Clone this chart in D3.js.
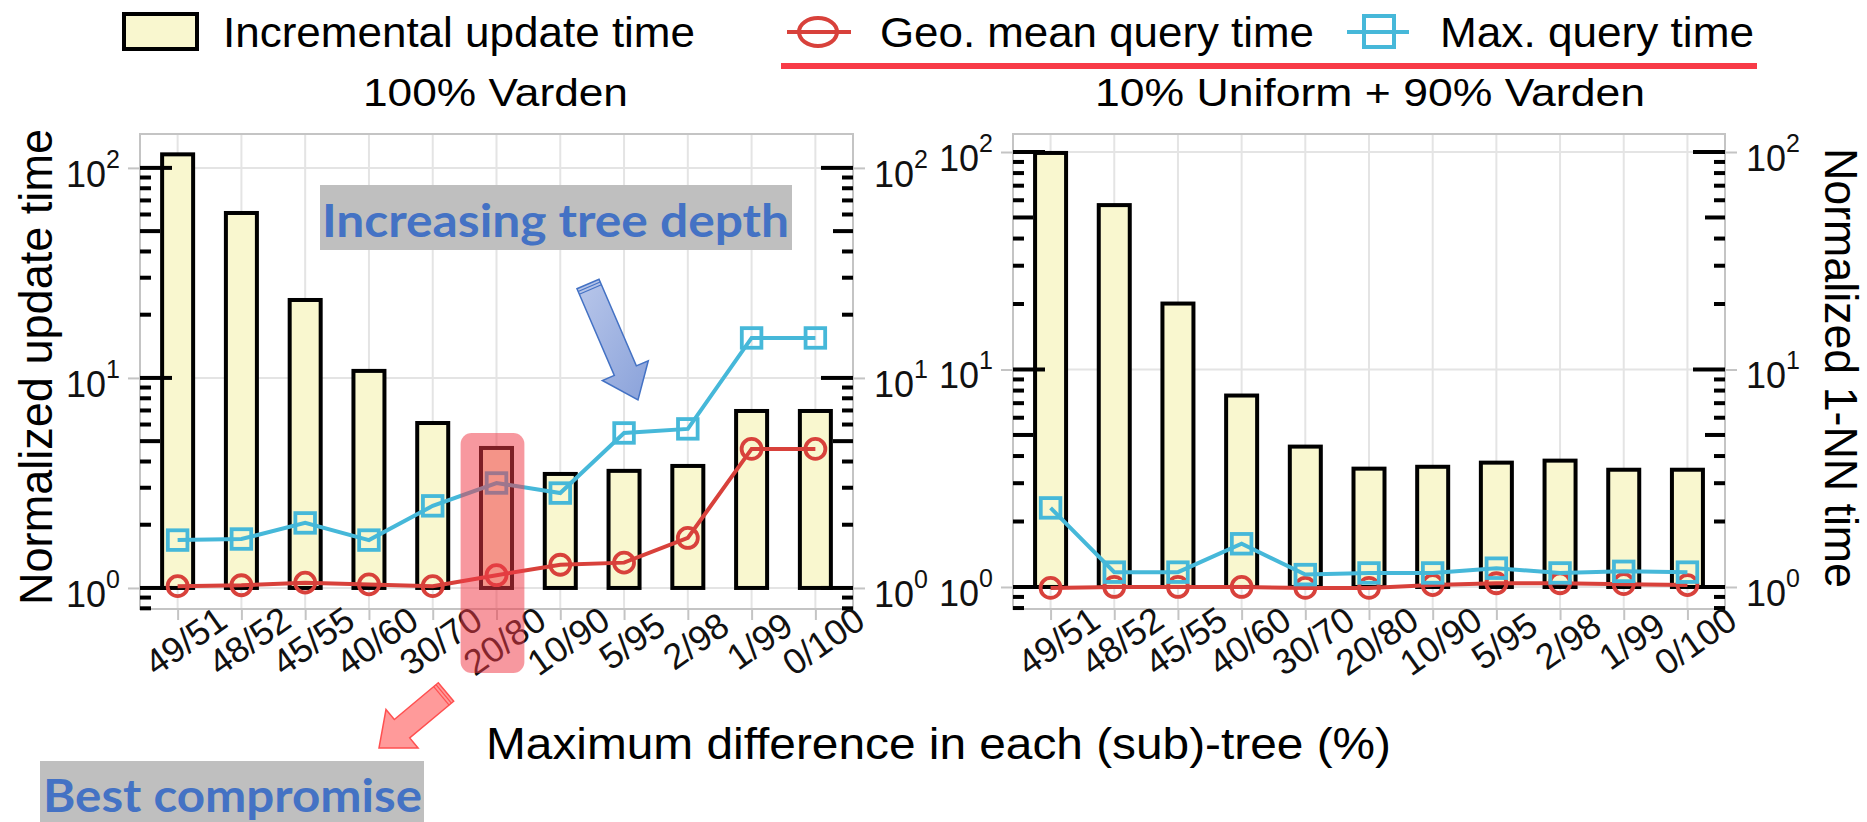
<!DOCTYPE html>
<html>
<head>
<meta charset="utf-8">
<script src="https://cdn.jsdelivr.net/npm/d3@7"></script>
<style>
  html, body { margin: 0; padding: 0; background: #fff; }
  svg { display: block; }
</style>
</head>
<body>
<svg id="chart" width="1867" height="822"></svg>
<script>
// Split ratios (max. difference in each sub-tree, %)
const categories = ["49/51", "48/52", "45/55", "40/60", "30/70", "20/80", "10/90", "5/95", "2/98", "1/99", "0/100"];

// 100% Varden
const varUpdate   = [116, 61, 23.5, 10.8, 6.1, 4.64, 3.49, 3.61, 3.81, 6.96, 6.96];
const varGeoMean  = [1.02, 1.03, 1.06, 1.04, 1.02, 1.15, 1.29, 1.32, 1.73, 4.59, 4.59];
const varMaxQuery = [1.69, 1.71, 2.04, 1.69, 2.46, 3.16, 2.83, 5.47, 5.72, 15.5, 15.5];

// 10% Uniform + 90% Varden
const mixUpdate   = [99, 57, 20.1, 7.59, 4.42, 3.50, 3.57, 3.73, 3.81, 3.46, 3.46];
const mixGeoMean  = [0.99, 1.0, 1.0, 1.0, 0.99, 0.99, 1.02, 1.04, 1.04, 1.03, 1.02];
const mixMaxQuery = [2.31, 1.17, 1.17, 1.58, 1.14, 1.16, 1.16, 1.22, 1.16, 1.18, 1.17];

const panelTitles = ["100% Varden", "10% Uniform + 90% Varden"];
const legendLabels = ["Incremental update time", "Geo. mean query time", "Max. query time"];
const majorTicks = [1, 10, 100];
const tickExponents = [0, 1, 2];

const FONT = "'Liberation Sans', Arial, Helvetica, sans-serif";
const NOTE_FONT = "Lato, 'Open Sans', sans-serif";
const BAR_FILL = "#f9f7cf";
const RED = "#d8413b";
const BLUE = "#46b8d9";
const GRID = "#e4e4e4";
const FRAME = "#c4c4c4";

const svg = d3.select("#chart");
const plotTop = 134, plotBottom = 609;

const panels = [
  { title: panelTitles[0], update: varUpdate, geo: varGeoMean, max: varMaxQuery,
    x0: 140, x1: 853, yDomain: [0.794, 145] },
  { title: panelTitles[1], update: mixUpdate, geo: mixGeoMean, max: mixMaxQuery,
    x0: 1013, x1: 1725, yDomain: [0.792, 121] }
];

// minor tick values (2..9 of every decade inside the domain)
function minorValues(domain) {
  const out = [];
  for (let k = -1; k <= 2; k++) {
    for (let m = 2; m <= 9; m++) {
      const v = m * Math.pow(10, k);
      if (v >= domain[0] && v <= domain[1]) out.push({ v, m });
    }
  }
  return out;
}

function powLabel(g, xPos, yPos, exp, anchor) {
  const t = g.append("text")
    .attr("x", xPos).attr("y", yPos + 19)
    .attr("text-anchor", anchor)
    .attr("font-family", FONT).attr("font-size", 36).attr("fill", "#111");
  t.append("tspan").text("10");
  t.append("tspan").attr("dy", -19).attr("font-size", 25).text(exp);
}

panels.forEach((p) => {
  const x = d3.scalePoint().domain(categories).range([p.x0, p.x1]).padding(0.59);
  const y = d3.scaleLog().domain(p.yDomain).range([plotBottom, plotTop]);
  const g = svg.append("g");

  // grid
  g.append("g").selectAll("line.v").data(categories).join("line")
    .attr("x1", d => x(d)).attr("x2", d => x(d))
    .attr("y1", plotTop).attr("y2", plotBottom)
    .attr("stroke", GRID).attr("stroke-width", 2);
  g.append("g").selectAll("line.h").data(majorTicks).join("line")
    .attr("x1", p.x0).attr("x2", p.x1)
    .attr("y1", d => y(d)).attr("y2", d => y(d))
    .attr("stroke", GRID).attr("stroke-width", 2);

  // outer gray axis ticks
  const axL = g.append("g").attr("transform", `translate(${p.x0},0)`)
    .call(d3.axisLeft(y).tickValues(majorTicks).tickSize(12).tickFormat(""));
  const axR = g.append("g").attr("transform", `translate(${p.x1},0)`)
    .call(d3.axisRight(y).tickValues(majorTicks).tickSize(12).tickFormat(""));
  const axB = g.append("g").attr("transform", `translate(0,${plotBottom})`)
    .call(d3.axisBottom(x).tickSize(11).tickFormat(""));
  [axL, axR, axB].forEach(a => {
    a.select(".domain").remove();
    a.selectAll("line").attr("stroke", FRAME).attr("stroke-width", 2);
  });

  // frame
  g.append("rect").attr("x", p.x0).attr("y", plotTop)
    .attr("width", p.x1 - p.x0).attr("height", plotBottom - plotTop)
    .attr("fill", "none").attr("stroke", FRAME).attr("stroke-width", 2);

  // bars from 1 upwards
  g.append("g").selectAll("rect").data(p.update).join("rect")
    .attr("x", (d, i) => x(categories[i]) - 15.5)
    .attr("width", 31)
    .attr("y", d => y(Math.max(d, 1)))
    .attr("height", d => Math.abs(y(1) - y(d)))
    .attr("fill", BAR_FILL).attr("stroke", "#000").attr("stroke-width", 4);

  // inner black log ticks (both sides)
  const minors = minorValues(p.yDomain);
  const tickLen = m => (m === 5 ? 20 : 11);
  const tg = g.append("g").attr("stroke", "#000").attr("stroke-width", 4);
  tg.selectAll("line.ml").data(minors).join("line")
    .attr("x1", p.x0).attr("x2", d => p.x0 + tickLen(d.m))
    .attr("y1", d => y(d.v)).attr("y2", d => y(d.v));
  tg.selectAll("line.mr").data(minors).join("line")
    .attr("x1", p.x1).attr("x2", d => p.x1 - tickLen(d.m))
    .attr("y1", d => y(d.v)).attr("y2", d => y(d.v));
  tg.selectAll("line.Ml").data(majorTicks).join("line")
    .attr("x1", p.x0).attr("x2", p.x0 + 32)
    .attr("y1", d => y(d)).attr("y2", d => y(d));
  tg.selectAll("line.Mr").data(majorTicks).join("line")
    .attr("x1", p.x1).attr("x2", p.x1 - 32)
    .attr("y1", d => y(d)).attr("y2", d => y(d));

  // y tick labels
  majorTicks.forEach((v, i) => {
    powLabel(g, p.x0 - 20, y(v), tickExponents[i], "end");
    powLabel(g, p.x1 + 21, y(v), tickExponents[i], "start");
  });

  // x tick labels
  g.append("g").selectAll("text").data(categories).join("text")
    .attr("transform", d => `translate(${x(d) + 8},${641}) rotate(-35)`)
    .attr("text-anchor", "middle").attr("dominant-baseline", "central")
    .attr("font-family", FONT).attr("font-size", 36).attr("fill", "#111")
    .text(d => d);

  // query-time lines and markers
  const line = d3.line().x((d, i) => x(categories[i])).y(d => y(d));
  g.append("path").datum(p.geo).attr("d", line)
    .attr("fill", "none").attr("stroke", RED).attr("stroke-width", 4);
  g.append("g").selectAll("circle").data(p.geo).join("circle")
    .attr("cx", (d, i) => x(categories[i])).attr("cy", d => y(d)).attr("r", 10)
    .attr("fill", "none").attr("stroke", RED).attr("stroke-width", 3.8);
  g.append("path").datum(p.max).attr("d", line)
    .attr("fill", "none").attr("stroke", BLUE).attr("stroke-width", 4);
  g.append("g").selectAll("rect").data(p.max).join("rect")
    .attr("x", (d, i) => x(categories[i]) - 9.8).attr("y", d => y(d) - 9.8)
    .attr("width", 19.6).attr("height", 19.6)
    .attr("fill", "none").attr("stroke", BLUE).attr("stroke-width", 3.8);

  p.xScale = x;
  p.yScale = y;
});

// panel titles
svg.append("text").attr("x", 363).attr("y", 106)
  .attr("font-family", FONT).attr("font-size", 38).attr("textLength", 265)
  .attr("lengthAdjust", "spacingAndGlyphs").text(panelTitles[0]);
svg.append("text").attr("x", 1095).attr("y", 106)
  .attr("font-family", FONT).attr("font-size", 38).attr("textLength", 550)
  .attr("lengthAdjust", "spacingAndGlyphs").text(panelTitles[1]);

// axis titles
svg.append("text")
  .attr("transform", "translate(52,367) rotate(-90)")
  .attr("text-anchor", "middle").attr("font-family", FONT).attr("font-size", 46)
  .attr("textLength", 476).attr("lengthAdjust", "spacingAndGlyphs")
  .text("Normalized update time");
svg.append("text")
  .attr("transform", "translate(1825,368) rotate(90)")
  .attr("text-anchor", "middle").attr("font-family", FONT).attr("font-size", 46)
  .attr("textLength", 440).attr("lengthAdjust", "spacingAndGlyphs")
  .text("Normalized 1-NN time");
svg.append("text").attr("x", 486).attr("y", 759)
  .attr("font-family", FONT).attr("font-size", 45)
  .attr("textLength", 905).attr("lengthAdjust", "spacingAndGlyphs")
  .text("Maximum difference in each (sub)-tree (%)");

// legend
const lg = svg.append("g").attr("transform", "translate(0,2)");
lg.append("rect").attr("x", 124).attr("y", 12).attr("width", 73).attr("height", 35)
  .attr("fill", BAR_FILL).attr("stroke", "#000").attr("stroke-width", 4);
lg.append("text").attr("x", 223).attr("y", 45).attr("font-family", FONT).attr("font-size", 43)
  .attr("textLength", 472).attr("lengthAdjust", "spacingAndGlyphs").text(legendLabels[0]);
lg.append("line").attr("x1", 787).attr("x2", 851).attr("y1", 30).attr("y2", 30)
  .attr("stroke", RED).attr("stroke-width", 4);
lg.append("ellipse").attr("cx", 818).attr("cy", 30).attr("rx", 19).attr("ry", 14)
  .attr("fill", "none").attr("stroke", RED).attr("stroke-width", 4);
lg.append("text").attr("x", 880).attr("y", 45).attr("font-family", FONT).attr("font-size", 43)
  .attr("textLength", 434).attr("lengthAdjust", "spacingAndGlyphs").text(legendLabels[1]);
lg.append("line").attr("x1", 1347).attr("x2", 1409).attr("y1", 30).attr("y2", 30)
  .attr("stroke", BLUE).attr("stroke-width", 4);
lg.append("rect").attr("x", 1364).attr("y", 14).attr("width", 30).attr("height", 31)
  .attr("fill", "none").attr("stroke", BLUE).attr("stroke-width", 4);
lg.append("text").attr("x", 1440).attr("y", 45).attr("font-family", FONT).attr("font-size", 43)
  .attr("textLength", 314).attr("lengthAdjust", "spacingAndGlyphs").text(legendLabels[2]);
lg.append("line").attr("x1", 781).attr("x2", 1757).attr("y1", 64).attr("y2", 64)
  .attr("stroke", "#f83b47").attr("stroke-width", 6);

// highlight of the chosen split
const p0 = panels[0];
const hx = p0.xScale("20/80");
const step = p0.xScale.step();
svg.append("rect")
  .attr("x", hx - step / 2 - 4).attr("y", 433)
  .attr("width", step).attr("height", 240)
  .attr("rx", 11).attr("ry", 11)
  .attr("fill", "#f03a46").attr("fill-opacity", 0.52);

// block arrows
const defs = svg.append("defs");
const gb = defs.append("linearGradient").attr("id", "gradBlue")
  .attr("x1", "0%").attr("y1", "0%").attr("x2", "100%").attr("y2", "100%");
gb.append("stop").attr("offset", "0%").attr("stop-color", "#b9c7ea");
gb.append("stop").attr("offset", "100%").attr("stop-color", "#8aa2da");

function drawArrow(tail, tip, shaftW, headW, headL, fill, stroke) {
  const dx = tip[0] - tail[0], dy = tip[1] - tail[1];
  const len = Math.hypot(dx, dy);
  const ux = dx / len, uy = dy / len, px = -uy, py = ux;
  const base = [tip[0] - ux * headL, tip[1] - uy * headL];
  const pt = (c, s) => [c[0] + px * s, c[1] + py * s];
  const pts = [pt(tail, shaftW / 2), pt(base, shaftW / 2), pt(base, headW / 2), tip,
               pt(base, -headW / 2), pt(base, -shaftW / 2), pt(tail, -shaftW / 2)];
  svg.append("path").attr("d", d3.line()(pts) + "Z")
    .attr("fill", fill).attr("stroke", stroke).attr("stroke-width", 1.5);
  // stripes near the tail
  [3, 6].forEach(o => {
    const c = [tail[0] + ux * o, tail[1] + uy * o];
    svg.append("line")
      .attr("x1", c[0] + px * shaftW / 2).attr("y1", c[1] + py * shaftW / 2)
      .attr("x2", c[0] - px * shaftW / 2).attr("y2", c[1] - py * shaftW / 2)
      .attr("stroke", stroke).attr("stroke-width", 1.2);
  });
}
drawArrow([588, 284], [638, 400], 24, 50, 32, "url(#gradBlue)", "#4472c4");
drawArrow([446, 692], [379, 748], 24, 50, 30, "#ff9a9a", "#ff5050");

// notes
svg.append("rect").attr("x", 320).attr("y", 185).attr("width", 472).attr("height", 65)
  .attr("fill", "#bfbfbf");
svg.append("text").attr("x", 322).attr("y", 237)
  .attr("font-family", NOTE_FONT).attr("font-weight", 700).attr("font-size", 46)
  .attr("fill", "#4472c4").attr("textLength", 467).attr("lengthAdjust", "spacingAndGlyphs")
  .text("Increasing tree depth");
svg.append("rect").attr("x", 40).attr("y", 761).attr("width", 384).attr("height", 70)
  .attr("fill", "#bfbfbf");
svg.append("text").attr("x", 43).attr("y", 812)
  .attr("font-family", NOTE_FONT).attr("font-weight", 700).attr("font-size", 46)
  .attr("fill", "#4472c4").attr("textLength", 379).attr("lengthAdjust", "spacingAndGlyphs")
  .text("Best compromise");
</script>
</body>
</html>
